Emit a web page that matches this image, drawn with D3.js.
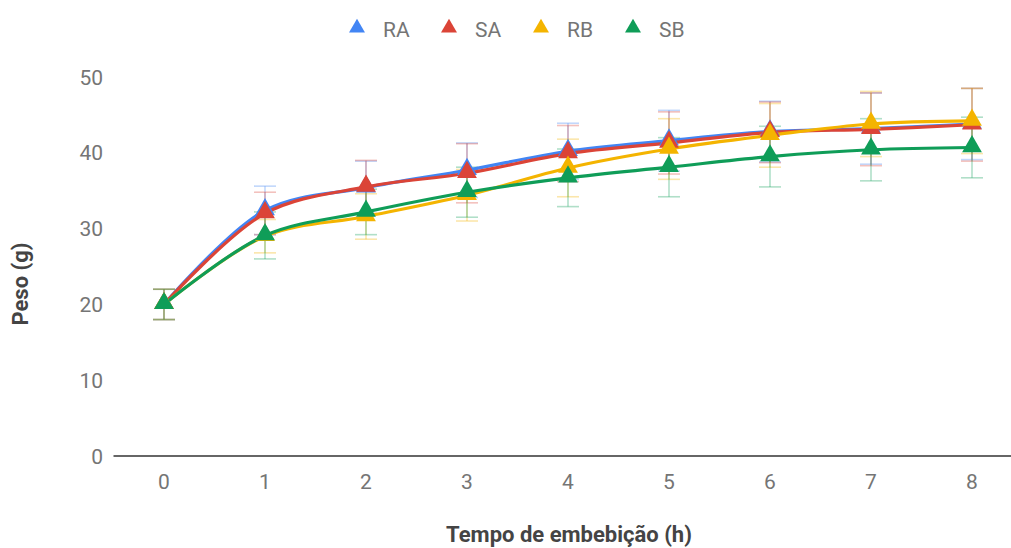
<!DOCTYPE html>
<html>
<head>
<meta charset="utf-8">
<script src="https://cdn.jsdelivr.net/npm/d3@7"></script>
<style>
  body { margin: 0; background: #fff; }
  svg { font-family: Roboto, Arial, sans-serif; }
</style>
</head>
<body>
<svg id="chart" width="1011" height="548"></svg>
<script>
// hours of imbibition
var hours = [0, 1, 2, 3, 4, 5, 6, 7, 8];
var seriesNames = ['RA', 'SA', 'RB', 'SB'];
var seriesColors = ['#4285f4', '#db4437', '#f4b400', '#0f9d58'];

// mean weight (g)
var RA = [20.0, 32.4, 35.4, 37.7, 40.2, 41.6, 42.8, 43.2, 43.8];
var SA = [20.0, 32.0, 35.5, 37.3, 39.9, 41.3, 42.7, 43.1, 43.7];
var RB = [20.0, 29.0, 31.6, 34.4, 38.0, 40.5, 42.3, 43.8, 44.2];
var SB = [20.0, 29.1, 32.2, 34.8, 36.7, 38.1, 39.5, 40.4, 40.7];

// standard deviation (error bars)
var RAsd = [2.0, 3.2, 3.5, 3.6, 3.7, 4.0, 4.0, 4.7, 4.7];
var SAsd = [2.0, 2.8, 3.5, 3.9, 3.7, 4.1, 4.0, 4.8, 4.8];
var RBsd = [2.0, 2.2, 3.0, 3.4, 3.8, 4.0, 4.2, 4.3, 4.3];
var SBsd = [2.0, 3.1, 3.0, 3.3, 3.8, 3.9, 4.0, 4.1, 4.0];

var yTicks = [0, 10, 20, 30, 40, 50];

var series = [
  {name: 'RA', values: RA, sd: RAsd},
  {name: 'SA', values: SA, sd: SAsd},
  {name: 'RB', values: RB, sd: RBsd},
  {name: 'SB', values: SB, sd: SBsd}
];

var svg = d3.select('#chart');

var x = d3.scalePoint()
  .domain(hours)
  .range([113.5, 1022.5])
  .padding(0.5);

var y = d3.scaleLinear()
  .domain([0, 50])
  .range([456, 77]);

var color = d3.scaleOrdinal().domain(seriesNames).range(seriesColors);

// y tick labels
svg.append('g')
  .selectAll('text')
  .data(yTicks)
  .enter().append('text')
    .attr('x', 103)
    .attr('y', d => y(d))
    .attr('dy', '0.36em')
    .attr('text-anchor', 'end')
    .attr('fill', '#757575')
    .style('font-size', '21px')
    .text(d => d);

// x tick labels
svg.append('g')
  .selectAll('text')
  .data(hours)
  .enter().append('text')
    .attr('x', d => x(d))
    .attr('y', 481)
    .attr('dy', '0.36em')
    .attr('text-anchor', 'middle')
    .attr('fill', '#757575')
    .style('font-size', '21px')
    .text(d => d);

// baseline
svg.append('line')
  .attr('x1', 113.5).attr('x2', 1022.5)
  .attr('y1', y(0)).attr('y2', y(0))
  .attr('stroke', '#666')
  .attr('stroke-width', 2);

// axis titles
svg.append('text')
  .attr('transform', 'translate(20,284) rotate(-90)')
  .attr('text-anchor', 'middle')
  .attr('dy', '0.36em')
  .attr('fill', '#444')
  .style('font-size', '22px')
  .style('font-weight', 'bold')
  .text('Peso (g)');

svg.append('text')
  .attr('x', 569)
  .attr('y', 534)
  .attr('dy', '0.36em')
  .attr('text-anchor', 'middle')
  .attr('fill', '#444')
  .style('font-size', '22px')
  .style('font-weight', 'bold')
  .text('Tempo de embebição (h)');

// error bars
var capW = 11;
var eb = svg.append('g').attr('stroke-opacity', 0.33).attr('stroke-width', 1.6);
series.forEach(function(s) {
  var g = eb.append('g').attr('stroke', color(s.name));
  hours.forEach(function(h, i) {
    var lo = y(s.values[i] - s.sd[i]);
    var hi = y(s.values[i] + s.sd[i]);
    var cx = x(h);
    g.append('line').attr('x1', cx).attr('x2', cx).attr('y1', lo).attr('y2', hi);
    g.append('line').attr('x1', cx - capW).attr('x2', cx + capW).attr('y1', lo).attr('y2', lo);
    g.append('line').attr('x1', cx - capW).attr('x2', cx + capW).attr('y1', hi).attr('y2', hi);
  });
});

// lines
var line = d3.line()
  .x((d, i) => x(hours[i]))
  .y(d => y(d))
  .curve(d3.curveCatmullRom.alpha(0.5));

svg.append('g')
  .selectAll('path')
  .data(series)
  .enter().append('path')
    .attr('fill', 'none')
    .attr('stroke', d => color(d.name))
    .attr('stroke-width', 3.2)
    .attr('d', d => line(d.values));

// triangle markers
var tri = d3.symbol().type(d3.symbolTriangle).size(170);
series.forEach(function(s) {
  svg.append('g')
    .selectAll('path')
    .data(s.values)
    .enter().append('path')
      .attr('d', tri)
      .attr('transform', (d, i) => 'translate(' + x(hours[i]) + ',' + (y(d) - 1) + ')')
      .attr('fill', color(s.name));
});

// legend
var legendX = [357, 449, 541, 633];
var legend = svg.append('g')
  .selectAll('g')
  .data(seriesNames)
  .enter().append('g')
    .attr('transform', (d, i) => 'translate(' + legendX[i] + ',29)');
legend.append('path')
  .attr('d', d3.symbol().type(d3.symbolTriangle).size(110))
  .attr('transform', 'translate(0,-1)')
  .attr('fill', d => color(d));
legend.append('text')
  .attr('x', 26)
  .attr('dy', '0.36em')
  .attr('fill', '#757575')
  .style('font-size', '21px')
  .text(d => d);
</script>
</body>
</html>
